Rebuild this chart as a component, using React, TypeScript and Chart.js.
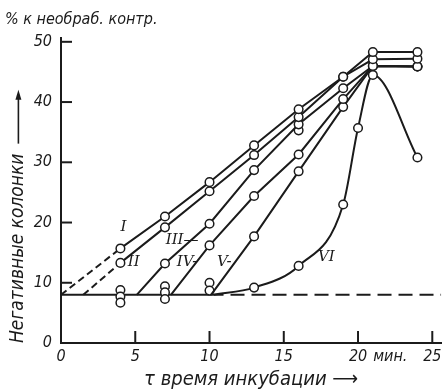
import React, { useEffect, useRef } from 'react';
import { Chart, registerables } from 'chart.js';

Chart.register(...registerables);

// ---- data ----
const xTickValues = [0, 5, 10, 15, 20, 25];
const yTickValues = [0, 10, 20, 30, 40, 50];

const curveI: [number, number][] = [[0, 8], [4, 15.7], [7, 21], [10, 26.7], [13, 32.8], [16, 38.8], [19, 44.2], [21, 48.3], [24, 48.3]];
const curveII: [number, number][] = [[1.5, 8], [4, 13.3], [7, 19.2], [10, 25.2], [13, 31.2], [16, 37.5], [19, 44.2], [21, 47.1], [24, 47.2]];
const curveIII: [number, number][] = [[5.1, 8], [7, 13.2], [10, 19.8], [13, 28.7], [16, 36.3], [19, 42.3], [21, 46], [24, 45.9]];
const curveIV: [number, number][] = [[7.4, 8], [10, 16.2], [13, 24.4], [16, 31.3], [19, 40.5], [21, 46], [24, 45.9]];
const curveV: [number, number][] = [[10.1, 8], [13, 17.7], [16, 28.5], [19, 39.2], [21, 46], [24, 45.9]];
const curveVI: [number, number][] = [[10.3, 8], [13, 9.2], [16, 12.8], [19, 23], [20, 35.7], [21, 44.5], [24, 30.8]];
const replicatePoints: [number, number][] = [[4, 8.8], [4, 7.7], [4, 6.7], [7, 9.4], [7, 8.4], [7, 7.3], [10, 10], [10, 8.7], [16, 35.3]];
const controlLevel: [number, number][] = [[0, 8], [10, 8], [25.6, 8]];

const curveNames = ['I', 'II', 'III—', 'IV-', 'V-', 'VI'];
const curveLabelX = [4.0, 4.5, 7.05, 7.8, 10.5, 17.3];
const curveLabelY = [19.3, 13.5, 17.1, 13.5, 13.5, 14.3];

const yTitle = 'Негативные колонки';
const xTitle = 'τ время инкубации ⟶';
const topTitle = '% к необраб. контр.';
const minuteUnit = 'мин.';

const INK = '#1b1b1b';
const FONT_FAMILY = "'DejaVu Sans Condensed', 'Liberation Sans Narrow', 'DejaVu Sans', sans-serif";
const SERIF = "'DejaVu Serif', 'Liberation Serif', serif";
const Y_TITLE_SIZE = 19;

const toPts = (arr: [number, number][]) => arr.map(([x, y]) => ({ x, y }));

const decorPlugin = {
  id: 'decor',
  afterDraw(chart: any) {
    const { ctx, chartArea, scales } = chart;
    const xs = scales.x;
    const ys = scales.y;
    ctx.save();
    ctx.strokeStyle = INK;
    ctx.lineWidth = 2;
    // inward tick marks
    for (const v of yTickValues) {
      if (v === 0) continue;
      const py = ys.getPixelForValue(v);
      ctx.beginPath();
      ctx.moveTo(chartArea.left, py);
      ctx.lineTo(chartArea.left + 11, py);
      ctx.stroke();
    }
    for (const v of xTickValues) {
      if (v === 0) continue;
      const px = xs.getPixelForValue(v);
      ctx.beginPath();
      ctx.moveTo(px, chartArea.bottom);
      ctx.lineTo(px, chartArea.bottom - 12);
      ctx.stroke();
    }
    // curve labels
    ctx.fillStyle = INK;
    ctx.font = `italic 15px ${SERIF}`;
    ctx.textAlign = 'left';
    ctx.textBaseline = 'middle';
    curveNames.forEach((name, i) => {
      ctx.fillText(name, xs.getPixelForValue(curveLabelX[i]), ys.getPixelForValue(curveLabelY[i]));
    });
    // "мин." after the 20 label
    ctx.font = `italic 16px ${FONT_FAMILY}`;
    const w20 = ctx.measureText('20').width;
    ctx.textBaseline = 'middle';
    ctx.textAlign = 'left';
    ctx.fillText(minuteUnit, xs.getPixelForValue(20) + w20 / 2 + 6, xs.top + 14);
    // arrow above the y title
    ctx.font = `italic ${Y_TITLE_SIZE}px ${FONT_FAMILY}`;
    const tw = ctx.measureText(yTitle).width;
    const ax = ys.left + 2 + (Y_TITLE_SIZE * 1.2) / 2;
    const yStart = chartArea.bottom - tw - 10;
    const yEnd = yStart - 54;
    ctx.lineWidth = 1.6;
    ctx.beginPath();
    ctx.moveTo(ax, yStart);
    ctx.lineTo(ax, yEnd + 6);
    ctx.stroke();
    ctx.beginPath();
    ctx.moveTo(ax, yEnd);
    ctx.lineTo(ax - 3, yEnd + 10);
    ctx.lineTo(ax + 3, yEnd + 10);
    ctx.closePath();
    ctx.fill();
    ctx.restore();
  },
};

export default function App() {
  const ref = useRef<HTMLCanvasElement | null>(null);
  useEffect(() => {
    if (!ref.current) return;
    const pointStyle = {
      pointBackgroundColor: '#ffffff',
      pointBorderColor: INK,
      pointBorderWidth: 1.5,
      borderColor: INK,
      borderWidth: 2,
      fill: false,
    };
    const lineSet = (arr: [number, number][], dashedFirst = false) => ({
      data: toPts(arr),
      ...pointStyle,
      tension: 0,
      pointRadius: arr.map((_, i) => (i === 0 ? 0 : 4.3)),
      segment: dashedFirst
        ? { borderDash: (c: any) => (c.p0DataIndex === 0 ? [7, 4] : undefined) }
        : undefined,
    });
    const tickFont = { family: FONT_FAMILY, size: 16, style: 'italic' as const };
    const chart = new Chart(ref.current, {
      type: 'line',
      data: {
        datasets: [
          lineSet(curveI, true),
          lineSet(curveII, true),
          lineSet(curveIII),
          lineSet(curveIV),
          lineSet(curveV),
          { ...lineSet(curveVI), cubicInterpolationMode: 'monotone' },
          {
            data: toPts(replicatePoints),
            ...pointStyle,
            showLine: false,
            pointRadius: 4.3,
          },
          {
            data: toPts(controlLevel),
            borderColor: INK,
            borderWidth: 2,
            pointRadius: 0,
            fill: false,
            segment: { borderDash: (c: any) => (c.p0DataIndex >= 1 ? [14, 7] : undefined) },
          },
        ] as any,
      },
      options: {
        animation: false,
        responsive: false,
        events: [],
        layout: { padding: { left: 5, right: 0, top: 0, bottom: 0 } },
        plugins: {
          legend: { display: false },
          tooltip: { enabled: false },
          title: {
            display: true,
            text: topTitle,
            align: 'start',
            color: INK,
            font: { family: FONT_FAMILY, size: 16, style: 'italic', weight: 'normal' },
            padding: { top: 10, bottom: 9 },
          },
        },
        scales: {
          x: {
            type: 'linear',
            min: 0,
            max: 25.6,
            afterBuildTicks: (s: any) => {
              s.ticks = xTickValues.map((v) => ({ value: v }));
            },
            afterFit: (s: any) => {
              s.height = 46;
            },
            grid: { display: false, drawTicks: false },
            border: { display: true, color: INK, width: 2 },
            ticks: { padding: 4, color: INK, font: tickFont, callback: (v: any) => String(v) },
            title: {
              display: true,
              text: xTitle,
              color: INK,
              font: { family: FONT_FAMILY, size: 20, style: 'italic' },
              padding: { top: 0, bottom: -3 },
            },
          },
          y: {
            type: 'linear',
            min: 0,
            max: 50.6,
            afterBuildTicks: (s: any) => {
              s.ticks = yTickValues.map((v) => ({ value: v }));
            },
            afterFit: (s: any) => {
              s.width = 56;
            },
            grid: { display: false, drawTicks: false },
            border: { display: true, color: INK, width: 2 },
            ticks: { padding: 9, color: INK, font: tickFont, callback: (v: any) => String(v) },
            title: {
              display: true,
              text: yTitle,
              align: 'start',
              color: INK,
              font: { family: FONT_FAMILY, size: Y_TITLE_SIZE, style: 'italic' },
              padding: { top: 2, bottom: 0 },
            },
          },
        },
      } as any,
      plugins: [decorPlugin],
    });
    return () => chart.destroy();
  }, []);
  return (
    <div style={{ position: 'fixed', left: 0, top: 0, width: 447, height: 389, background: '#fff' }}>
      <canvas ref={ref} width={447} height={389} style={{ display: 'block', width: 447, height: 389 }} />
    </div>
  );
}
